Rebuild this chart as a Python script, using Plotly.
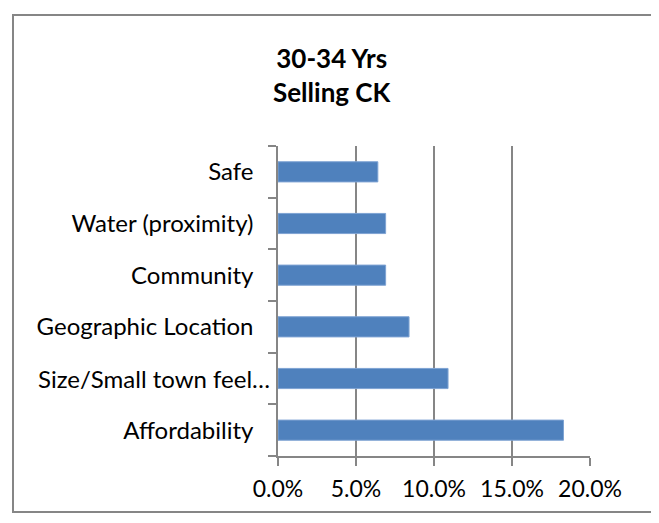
import plotly.graph_objects as go

categories = ["Safe", "Water (proximity)", "Community", "Geographic Location",
              "Size/Small town feel…", "Affordability"]
values = [0.064, 0.069, 0.069, 0.084, 0.109, 0.183]
tick_vals = [0, 0.05, 0.10, 0.15, 0.20]
tick_text = ["0.0%", "5.0%", "10.0%", "15.0%", "20.0%"]
title_lines = ["30-34 Yrs", "Selling CK"]
overflow_label = 4  # label that overflows onto the axis in the original

OFF = 8  # page body margin
W, H = 659 - OFF, 523 - OFF
L, R, T, B = 278 - OFF, 590 - OFF, 146 - OFF, 456 - OFF  # plot area in figure px
pw, ph = R - L, B - T

def px_x(x):
    return (x - OFF - L) / pw

def px_y(y):
    return (B - (y - OFF)) / ph

FONT = "Lato"
grey = "#868686"

fig = go.Figure(go.Bar(
    y=categories, x=values, orientation="h",
    marker=dict(color="#4F81BD", line=dict(color="#7EA3D3", width=1)),
))

ytext = [c if i != overflow_label else "" for i, c in enumerate(categories)]

fig.update_layout(
    width=W, height=H,
    margin=dict(l=L, r=W - R, t=T, b=H - B, pad=0, autoexpand=False),
    paper_bgcolor="white", plot_bgcolor="white",
    showlegend=False, bargap=0.61,
    font=dict(family=FONT, size=24, color="black"),
    xaxis=dict(range=[0, 0.20], tickvals=tick_vals, ticktext=tick_text,
               showgrid=True, gridcolor=grey, gridwidth=1.5,
               zeroline=False, showline=True, linecolor=grey, linewidth=1.5,
               ticks="outside", ticklen=8, tickcolor=grey, tickwidth=1.5,
               ticklabelstandoff=4, automargin=False,
               tickfont=dict(family=FONT, size=23), fixedrange=True),
    yaxis=dict(autorange="reversed", type="category", tickson="boundaries",
               tickvals=categories, ticktext=ytext,
               showgrid=False, zeroline=False, showline=True, linecolor=grey,
               linewidth=1.5, ticks="outside", ticklen=8, tickcolor=grey,
               tickwidth=1.5, ticklabelstandoff=18, automargin=False,
               tickfont=dict(family=FONT, size=24), fixedrange=True),
    annotations=[
        dict(text="<b>" + "</b><br><b>".join(title_lines) + "</b>",
             xref="paper", yref="paper", x=px_x(332), y=px_y(40),
             xanchor="center", yanchor="top", showarrow=False,
             font=dict(family=FONT, size=26, color="black")),
        dict(text=categories[overflow_label], xref="paper", yref="y",
             x=px_x(272), y=categories[overflow_label],
             xanchor="right", yanchor="middle", showarrow=False,
             font=dict(family=FONT, size=24, color="black")),
    ],
    shapes=[dict(type="rect", xref="paper", yref="paper",
                 x0=px_x(13), x1=px_x(652), y0=px_y(512), y1=px_y(15),
                 line=dict(color=grey, width=2), layer="below")],
)

fig.write_html("out.html")
